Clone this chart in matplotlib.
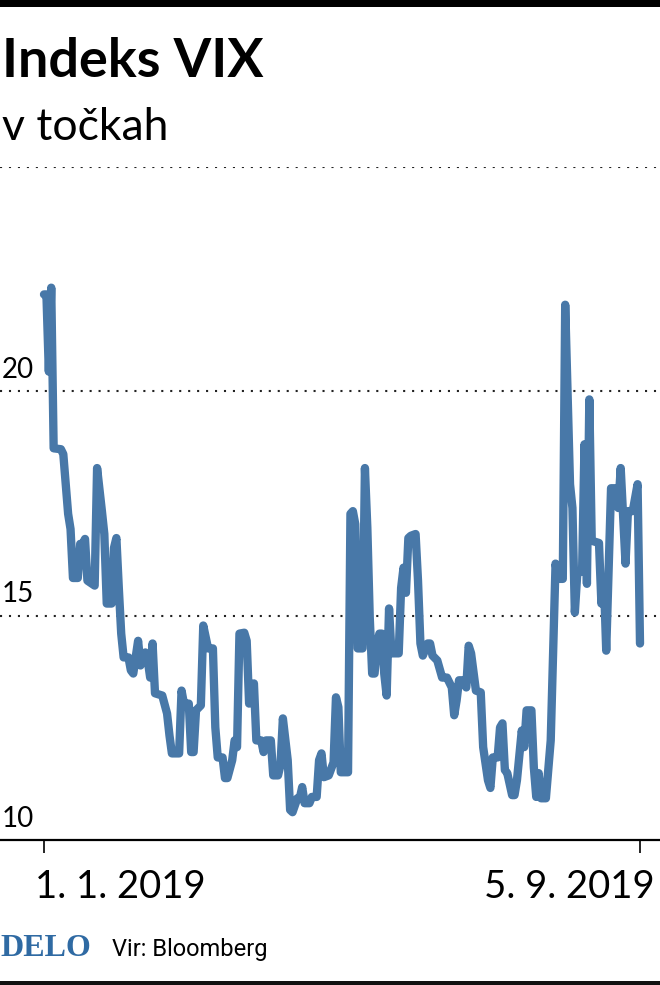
import numpy as np
import pandas as pd
import matplotlib
matplotlib.use("Agg")
import matplotlib.pyplot as plt
from matplotlib.patches import Rectangle

# VIX close (days counted from 1 Jan 2019)
days = [0, 1, 2, 3, 4, 7, 8, 10, 11, 12, 14, 15, 16, 17, 18, 21, 22, 24, 25, 26,
        28, 29, 30, 31, 32, 33, 35, 36, 37, 39, 40, 42, 43, 44, 45, 46, 49, 51, 52, 53,
        56, 57, 58, 60, 61, 62, 63, 65, 66, 68, 70, 71, 72, 74, 75, 76, 78, 79, 80, 81,
        83, 84, 85, 87, 88, 90, 91, 92, 94, 95, 97, 98, 99, 101, 102, 103, 105, 106, 107, 108,
        110, 111, 113, 114, 115, 116, 118, 120, 121, 122, 123, 126, 127, 128, 129, 130, 132, 133, 134, 135,
        136, 137, 138, 139, 140, 141, 142, 143, 144, 147, 148, 149, 150, 151, 152, 154, 155, 156, 157, 159,
        160, 161, 163, 165, 167, 169, 170, 171, 172, 174, 175, 176, 177, 179, 181, 182, 184, 185, 186, 188,
        189, 190, 191, 192, 194, 195, 196, 198, 199, 200, 202, 203, 204, 205, 206, 208, 210, 212, 213, 215,
        216, 218, 219, 220, 221, 223, 224, 225, 226, 227, 230, 231, 232, 233, 235, 237, 238, 239, 241, 242,
        244, 246, 247]
vix = [22.16, 22.16, 20.44, 22.31, 18.73, 18.71, 18.60, 17.27, 16.93, 15.84, 15.84, 16.60, 16.60, 16.71, 15.78, 15.67, 18.29, 17.33, 16.82, 15.27,
       15.27, 16.51, 16.73, 15.62, 14.60, 14.07, 14.07, 13.78, 13.71, 14.44, 13.89, 14.18, 14.00, 13.62, 14.38, 13.27, 13.22, 12.82, 12.33, 11.93,
       11.93, 13.33, 13.04, 13.04, 11.96, 11.96, 12.89, 13.00, 14.78, 14.27, 14.27, 12.51, 11.84, 11.84, 11.38, 11.38, 11.78, 12.22, 12.07, 14.60,
       14.62, 14.44, 13.04, 13.49, 12.22, 12.22, 11.96, 12.22, 12.22, 11.44, 11.44, 11.67, 12.71, 11.78, 10.67, 10.62, 10.93, 10.93, 11.18, 10.82,
       10.82, 10.96, 10.96, 11.78, 11.93, 11.40, 11.44, 11.73, 13.18, 12.96, 11.51, 11.51, 17.27, 17.33, 17.04, 14.27, 14.27, 18.29, 16.96, 14.96,
       13.71, 13.71, 14.38, 14.60, 14.60, 13.71, 13.22, 15.16, 14.16, 14.16, 15.62, 16.07, 15.51, 16.73, 16.78, 16.82, 15.78, 14.38, 14.11, 14.38,
       14.38, 14.11, 14.00, 13.62, 13.62, 13.40, 12.78, 13.11, 13.56, 13.56, 13.40, 14.33, 14.16, 13.33, 13.29, 12.07, 11.33, 11.16, 11.84, 11.84,
       12.51, 12.60, 11.56, 11.49, 11.00, 11.00, 11.33, 12.44, 12.07, 12.89, 12.89, 11.62, 10.96, 11.49, 10.93, 10.93, 12.22, 16.16, 15.82, 15.82,
       21.93, 17.93, 17.40, 15.07, 15.93, 16.00, 18.82, 15.71, 19.82, 16.67, 16.62, 15.27, 15.84, 14.22, 17.84, 17.84, 17.40, 18.29, 16.16, 17.33,
       17.33, 17.93, 14.38]

dates = pd.Timestamp("2019-01-01") + pd.to_timedelta(days, unit="D")
tick_dates = [pd.Timestamp("2019-01-01"), pd.Timestamp("2019-09-05")]
tick_labels = ["1. 1. 2019", "5. 9. 2019"]
grid_vals = [15, 20, 25]
y_labels = [10, 15, 20]

BLUE = "#4878a8"
W, H = 660, 985

fig = plt.figure(figsize=(6.6, 9.85), dpi=100)
fig.patch.set_facecolor("white")

# axes spans full width; y 10 at px 840, 25 at px 167
ax = fig.add_axes([0, (H - 840) / H, 1, (840 - 167) / H])
px_per_day = (640 - 44) / 247.0
x0 = pd.Timestamp("2019-01-01") - pd.Timedelta(days=44 / px_per_day)
x1 = pd.Timestamp("2019-01-01") + pd.Timedelta(days=(W - 44) / px_per_day)
ax.set_xlim(x0, x1)
ax.set_ylim(10, 25)

for g in grid_vals:
    ax.axhline(g, color="#222222", lw=1.5, dashes=(1, 3.3), dash_capstyle="butt", zorder=1)

ax.plot(dates, vix, color=BLUE, lw=6, solid_joinstyle="round", solid_capstyle="round", zorder=3)

for s in ["top", "left", "right"]:
    ax.spines[s].set_visible(False)
ax.spines["bottom"].set_linewidth(1.6)
ax.spines["bottom"].set_color("black")
ax.set_yticks([])
ax.set_xticks(tick_dates)
ax.set_xticklabels([])
ax.tick_params(axis="x", length=9, width=1.2, color="black", direction="out")
ax.patch.set_visible(False)

for v in y_labels:
    ax.annotate(str(v), xy=(0.003, v), xycoords=("axes fraction", "data"),
                xytext=(0, 6), textcoords="offset points",
                ha="left", va="bottom", fontsize=20, family="Lato", color="black")

# date labels under the axis
fig.text(35 / W, (H - 898) / H, tick_labels[0], ha="left", va="baseline",
         fontsize=27.5, family="Lato", color="black")
fig.text(655 / W, (H - 898) / H, tick_labels[1], ha="right", va="baseline",
         fontsize=27.5, family="Lato", color="black")

# title block
fig.text(2 / W, (H - 77) / H, "Indeks VIX", ha="left", va="baseline",
         fontsize=39, fontweight="bold", family="Lato", color="black")
fig.text(2 / W, (H - 140) / H, "v točkah", ha="left", va="baseline",
         fontsize=32, fontweight="normal", family="Lato", color="black")

# footer
fig.text(0, (H - 956) / H, "DELO", ha="left", va="baseline", fontsize=23,
         fontweight="bold", family=["Liberation Serif", "DejaVu Serif"], color="#2f6aa3")
fig.text(112 / W, (H - 956) / H, "Vir: Bloomberg", ha="left", va="baseline", fontsize=17,
         family=["Liberation Sans Narrow", "Roboto", "DejaVu Sans"], color="black")

# black rules top and bottom
fig.add_artist(Rectangle((0, (H - 7) / H), 1, 7 / H, transform=fig.transFigure,
                         color="black", lw=0))
fig.add_artist(Rectangle((0, 0), 1, 4 / H, transform=fig.transFigure,
                         color="#111111", lw=0))

fig.savefig("out.png", dpi=100, facecolor="white")
